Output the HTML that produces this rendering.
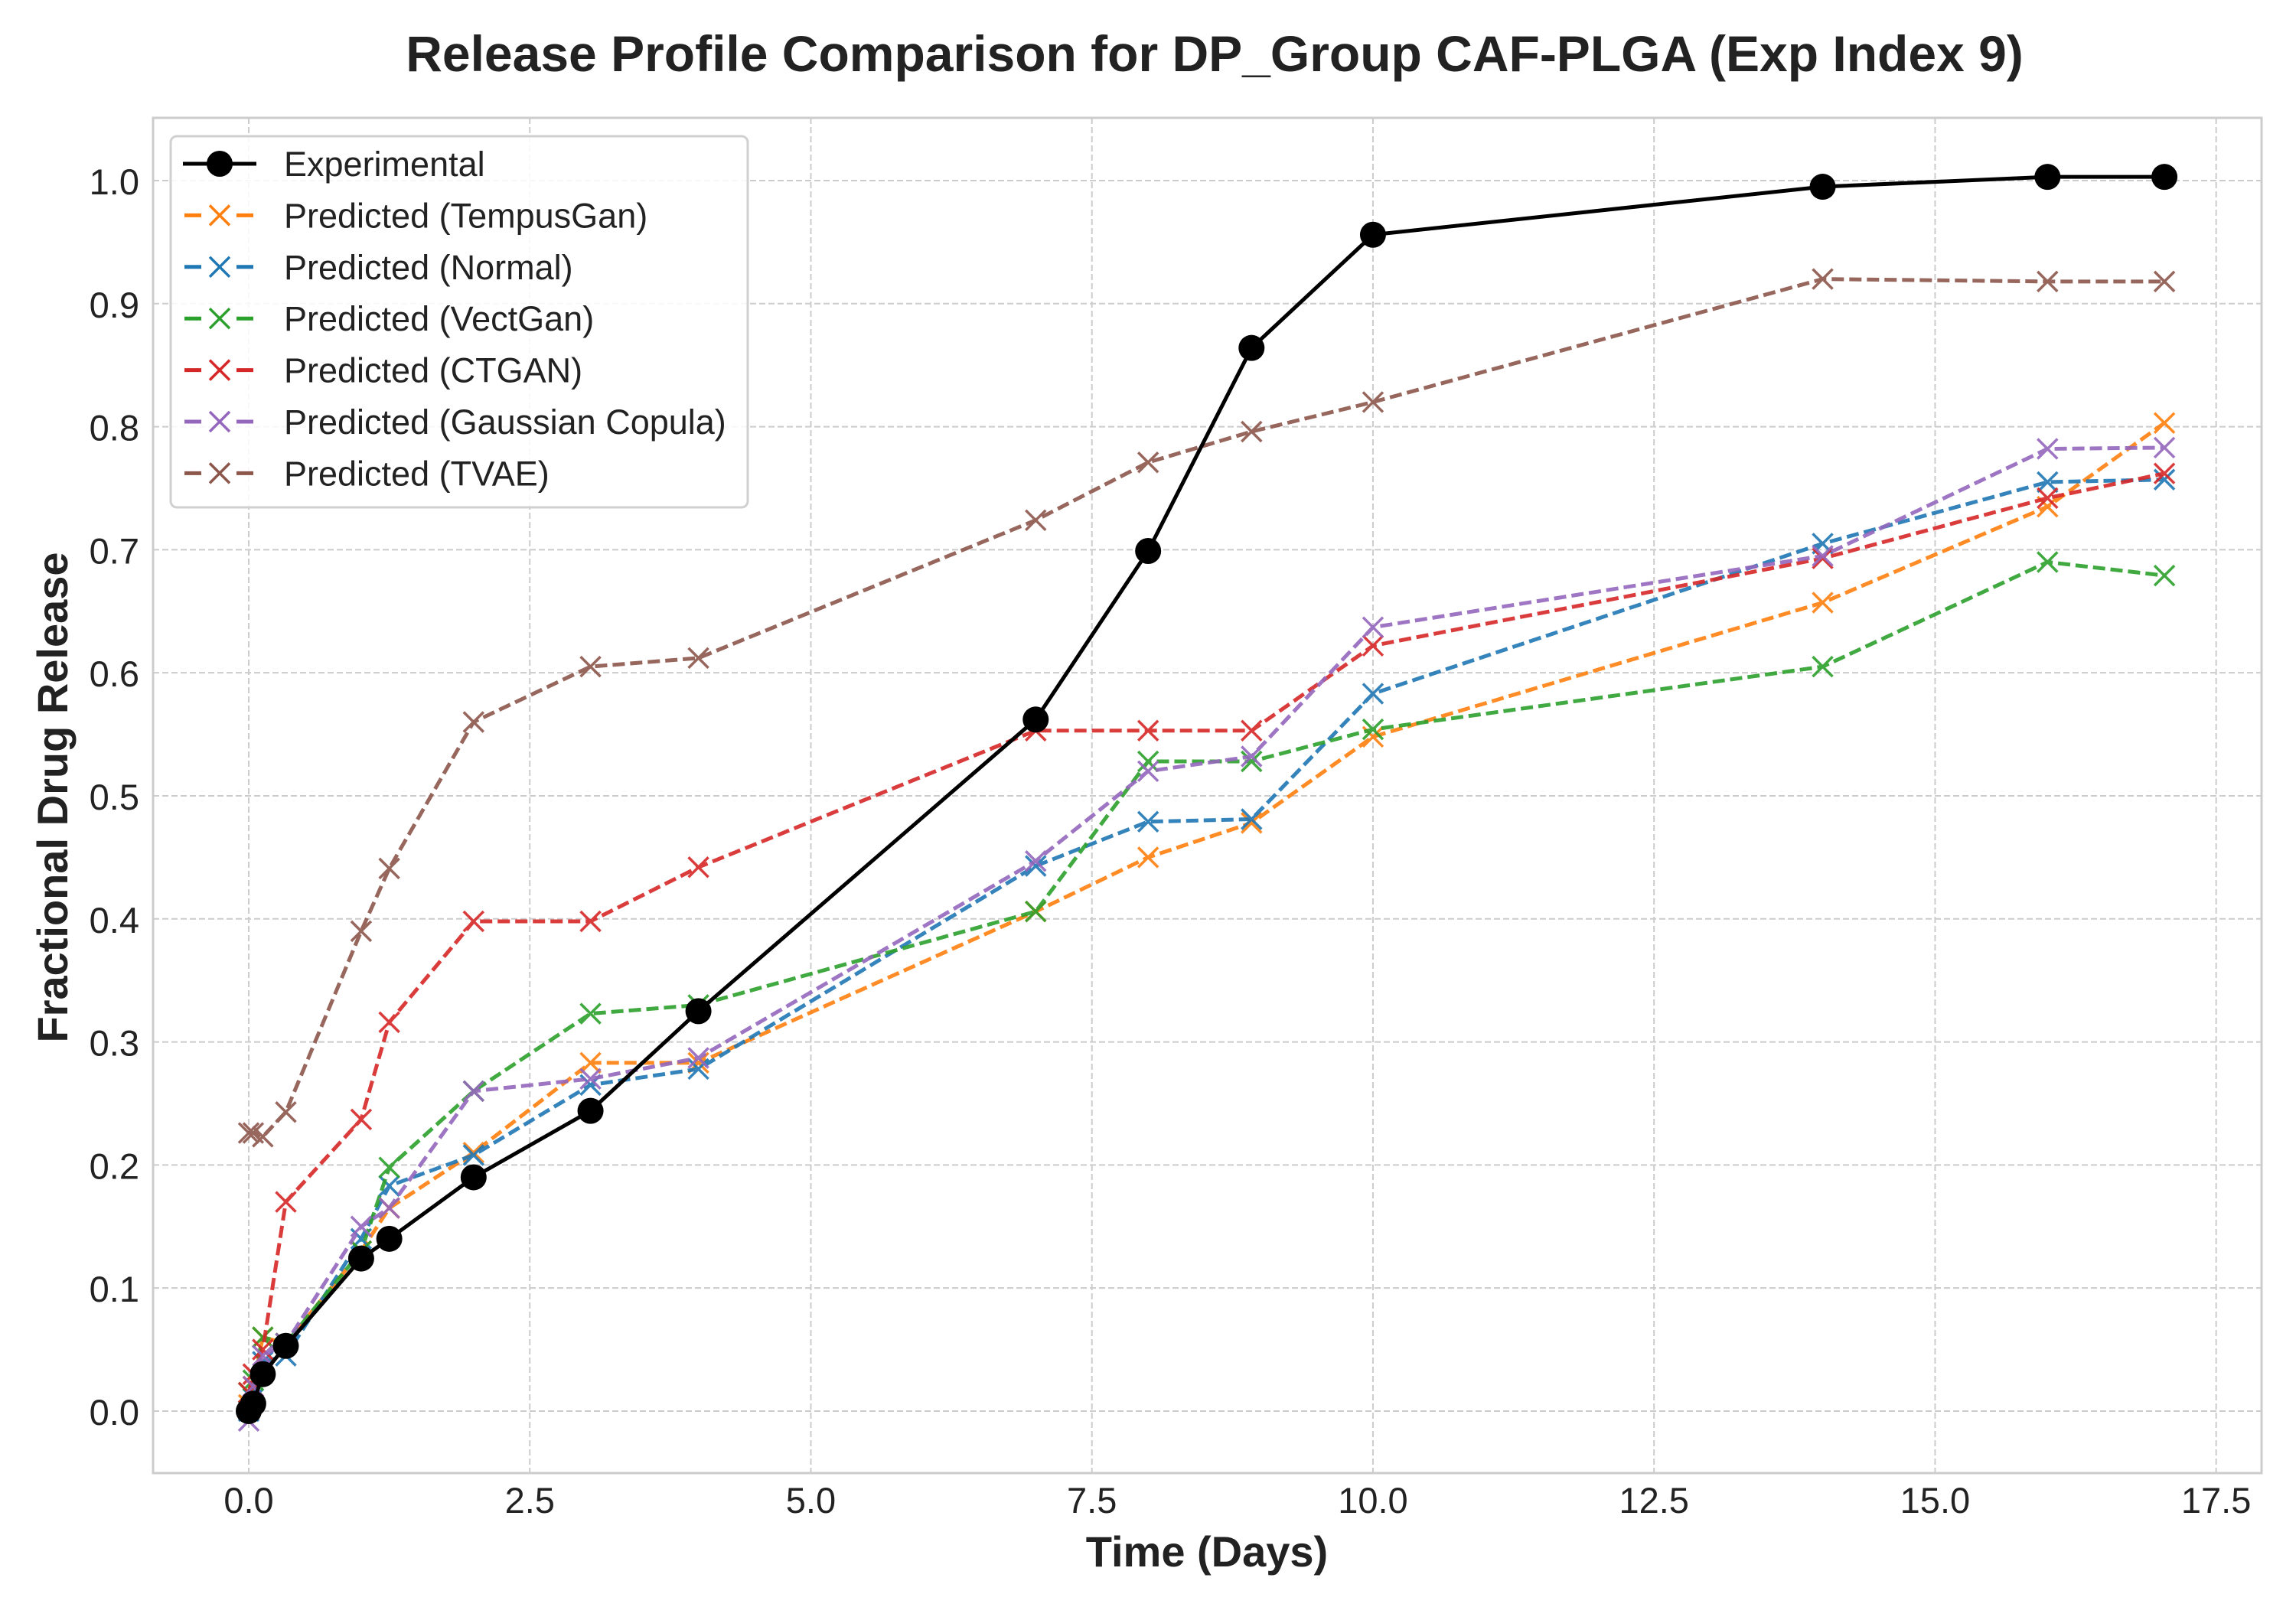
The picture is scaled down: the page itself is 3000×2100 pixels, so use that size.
<!DOCTYPE html>
<html><head><meta charset="utf-8"><style>
html,body{margin:0;padding:0;background:#fff;}
svg{display:block;font-family:"Liberation Sans",Arial,sans-serif;}
</style></head><body>
<svg id="chart" width="3000" height="2100" viewBox="0 0 3000 2100" xmlns="http://www.w3.org/2000/svg">
<rect width="3000" height="2100" fill="#fff"/>
<text x="1587" y="93" text-anchor="middle" font-size="66" font-weight="bold" fill="#222">Release Profile Comparison for DP_Group CAF-PLGA (Exp Index 9)</text>
<g id="grid"></g>
<g id="ticks"></g>
<g id="series"></g>
<rect x="200" y="154" width="2755" height="1771" fill="none" stroke="#ccc" stroke-width="3"/>
<text x="1577" y="2047" text-anchor="middle" font-size="56" font-weight="bold" fill="#222">Time (Days)</text>
<text transform="translate(88,1042) rotate(-90)" text-anchor="middle" font-size="56" font-weight="bold" fill="#222">Fractional Drug Release</text>
<g id="legend"></g>
</svg>
<script>
const times = [0, 0.04, 0.125, 0.33, 1, 1.25, 2, 3.04, 4, 7, 8, 8.92, 10, 14, 16, 17.04];
const experimental = [0, 0.006, 0.03, 0.053, 0.124, 0.14, 0.19, 0.244, 0.325, 0.562, 0.699, 0.864, 0.956, 0.995, 1.003, 1.003];
const tempusGan = [0.005, 0.02, 0.06, 0.055, 0.13, 0.165, 0.21, 0.283, 0.283, 0.406, 0.45, 0.478, 0.548, 0.657, 0.735, 0.803];
const normal = [0.0, 0.01, 0.04, 0.045, 0.14, 0.183, 0.208, 0.265, 0.278, 0.443, 0.479, 0.481, 0.583, 0.705, 0.755, 0.757];
const vectGan = [0.015, 0.025, 0.06, 0.055, 0.13, 0.198, 0.26, 0.323, 0.33, 0.406, 0.528, 0.528, 0.554, 0.605, 0.69, 0.679];
const ctgan = [0.015, 0.03, 0.05, 0.17, 0.237, 0.316, 0.398, 0.398, 0.442, 0.553, 0.553, 0.553, 0.622, 0.693, 0.742, 0.762];
const gaussianCopula = [-0.008, 0.02, 0.045, 0.055, 0.15, 0.165, 0.26, 0.27, 0.287, 0.447, 0.52, 0.532, 0.637, 0.695, 0.782, 0.783];
const tvae = [0.226, 0.226, 0.223, 0.243, 0.39, 0.441, 0.56, 0.605, 0.612, 0.724, 0.771, 0.796, 0.82, 0.92, 0.918, 0.918];
const xTickLabels = ["0.0","2.5","5.0","7.5","10.0","12.5","15.0","17.5"];
const yTickLabels = ["0.0","0.1","0.2","0.3","0.4","0.5","0.6","0.7","0.8","0.9","1.0"];
const seriesNames = ["Predicted (TempusGan)","Predicted (Normal)","Predicted (VectGan)","Predicted (CTGAN)","Predicted (Gaussian Copula)","Predicted (TVAE)"];

const NS = "http://www.w3.org/2000/svg";
const L=200,R=2955,T=154,B=1925;
const xMin=-0.851,xMax=17.904,yMin=-0.0504,yMax=1.051;
const X=v=>L+(v-xMin)/(xMax-xMin)*(R-L);
const Y=v=>B-(v-yMin)/(yMax-yMin)*(B-T);
function mk(tag,attrs,parent){const e=document.createElementNS(NS,tag);for(const k in attrs)e.setAttribute(k,attrs[k]);parent.appendChild(e);return e;}
const grid=document.getElementById('grid'),ticks=document.getElementById('ticks'),series=document.getElementById('series'),legend=document.getElementById('legend');
xTickLabels.forEach(t=>{const v=parseFloat(t);
 const g=mk('line',{x1:X(v),x2:X(v),y1:T,y2:B,stroke:'#ccc','stroke-width':2,'stroke-dasharray':'8,4'},grid);
 
 
 const tx=mk('text',{x:X(v),y:1977,'text-anchor':'middle','font-size':47,fill:'#222'},ticks);tx.textContent=t;
 
 
});
yTickLabels.forEach(t=>{const v=parseFloat(t);
 const g=mk('line',{x1:L,x2:R,y1:Y(v),y2:Y(v),stroke:'#ccc','stroke-width':2,'stroke-dasharray':'8,4'},grid);
 
 
 const tx=mk('text',{x:182,y:Y(v)+18,'text-anchor':'end','font-size':47,fill:'#222'},ticks);tx.textContent=t;
 
 
});
const predicted=[tempusGan,normal,vectGan,ctgan,gaussianCopula,tvae];
const colors=['#ff7f0e','#1f77b4','#2ca02c','#d62728','#9467bd','#8c564b'];
function xMark(cx,cy,c,p,s){const h=13;return mk('path',{d:`M${cx-h},${cy-h}L${cx+h},${cy+h}M${cx-h},${cy+h}L${cx+h},${cy-h}`,stroke:c,'stroke-width':s||3.5,fill:'none'},p);}
predicted.forEach((vals,i)=>{
 const g=mk('g',{opacity:0.9},series);
 
 
 const pts=vals.map((v,j)=>X(times[j])+','+Y(v)).join(' ');
 mk('polyline',{points:pts,fill:'none',stroke:colors[i],'stroke-width':5,'stroke-dasharray':'16,7'},g);
 vals.forEach((v,j)=>{const m=xMark(X(times[j]),Y(v),colors[i],g);
  
  });
});
const ge=mk('g',{},series);


mk('polyline',{points:experimental.map((v,j)=>X(times[j])+','+Y(v)).join(' '),fill:'none',stroke:'#000','stroke-width':5},ge);
experimental.forEach((v,j)=>{const c=mk('circle',{cx:X(times[j]),cy:Y(v),r:17,fill:'#000'},ge);
 
 });
// legend
const box=mk('rect',{x:223,y:178,width:754,height:485,rx:8,fill:'#fff','fill-opacity':0.85,stroke:'#d0d0d0','stroke-width':3},legend);


const labels=['Experimental'].concat(seriesNames);
labels.forEach((lab,i)=>{const y=214+i*67.4;
 const g=mk('g',{},legend);
 
 
 if(i===0){mk('line',{x1:239,x2:335,y1:y,y2:y,stroke:'#000','stroke-width':5},g);mk('circle',{cx:287,cy:y,r:17,fill:'#000'},g);}
 else{mk('line',{x1:241,x2:333,y1:y,y2:y,stroke:colors[i-1],'stroke-width':5,'stroke-dasharray':'22,46'},g);xMark(287,y,colors[i-1],g);}
 const t=mk('text',{x:371,y:y+16,'font-size':45,fill:'#222'},g);t.textContent=lab;
});
</script>
</body></html>
